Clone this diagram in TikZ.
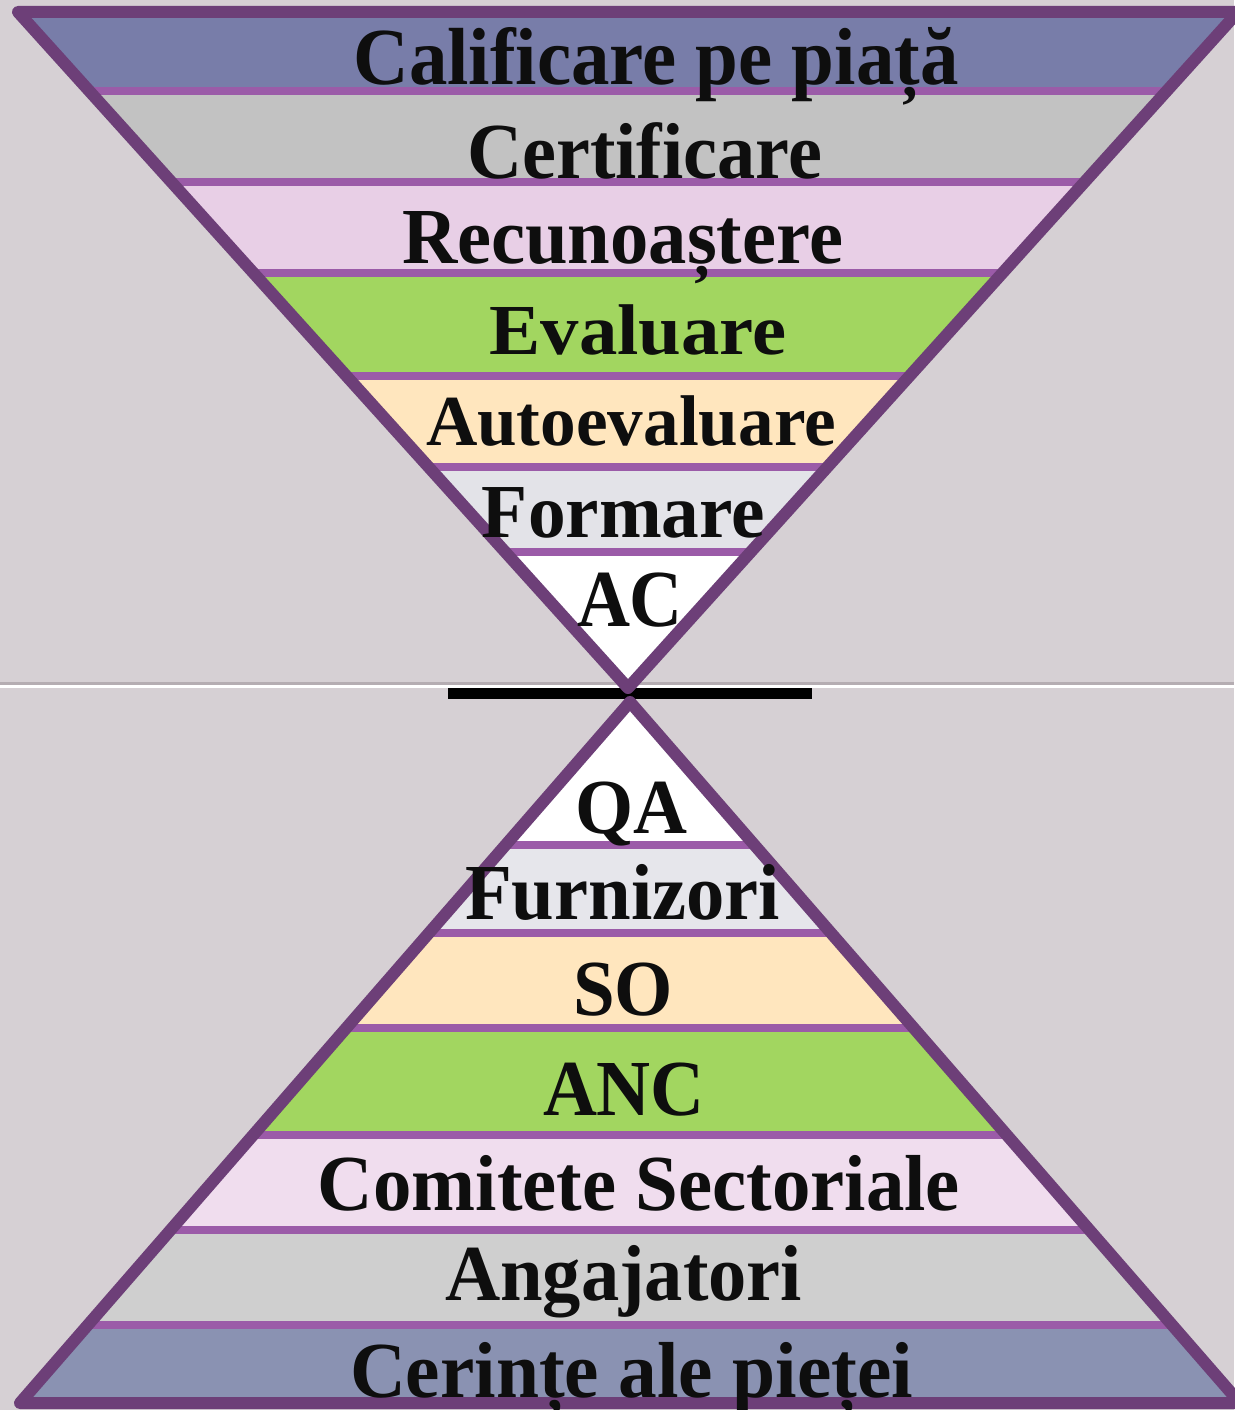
\documentclass[tikz,border=0pt]{standalone}
\usepackage{fontspec}
\setmainfont{Liberation Serif}
\usepackage{graphicx}
\definecolor{bgc}{HTML}{D6D0D4}
\definecolor{shadowc}{HTML}{B5ADB2}
\definecolor{outerc}{HTML}{6D3F78}
\definecolor{sepc}{HTML}{9B5BA8}
\definecolor{textc}{HTML}{0E0E0E}
\definecolor{cA}{HTML}{787DA9}
\definecolor{cB}{HTML}{C2C2C2}
\definecolor{cC}{HTML}{E8CFE6}
\definecolor{cD}{HTML}{A2D660}
\definecolor{cE}{HTML}{FFE6BE}
\definecolor{cF}{HTML}{E3E3E8}
\definecolor{cG}{HTML}{FFFFFF}
\definecolor{dB}{HTML}{E6E6EB}
\definecolor{dE}{HTML}{F0DDEE}
\definecolor{dF}{HTML}{CFCFCF}
\definecolor{dG}{HTML}{8A92B2}
\newcommand\fitlbl[3]{\resizebox{#1pt}{\height}{\fontsize{#2}{#2}\selectfont\bfseries #3}}
\begin{document}
\begin{tikzpicture}[x=1pt,y=-1pt,
  outer/.style={draw=outerc, line width=12pt, line join=round},
  sepline/.style={draw=sepc, line width=8pt},
  lab/.style={anchor=base, inner sep=0pt, text=textc}]
\useasboundingbox (0,0) rectangle (1234,1410);
\fill[bgc] (0,0) rectangle (1234,1410);
% divider line
\fill[shadowc] (0,682) rectangle (1234,685);
\fill[white] (0,685) rectangle (1234,688);
\fill[black] (448,688) rectangle (812,699);
% top triangle
\coordinate (TL) at (18,12);
\coordinate (TR) at (1238,12);
\coordinate (TA) at (628,688);
\begin{scope}
\clip (TL) -- (TR) -- (TA) -- cycle;
\fill[cA] (0,0) rectangle (1240,91);
\fill[cB] (0,91) rectangle (1240,182);
\fill[cC] (0,182) rectangle (1240,273);
\fill[cD] (0,273) rectangle (1240,376);
\fill[cE] (0,376) rectangle (1240,467);
\fill[cF] (0,467) rectangle (1240,552);
\fill[cG] (0,552) rectangle (1240,700);
\foreach \yy in {91,182,273,376,467,552}{\draw[sepline] (0,\yy) -- (1240,\yy);}
\end{scope}
\draw[outer] (TL) -- (TR) -- (TA) -- cycle;
% bottom triangle
\coordinate (BA) at (630,702);
\coordinate (BL) at (20,1403);
\coordinate (BR) at (1240,1403);
\begin{scope}
\clip (BA) -- (BR) -- (BL) -- cycle;
\fill[cG] (0,690) rectangle (1240,845);
\fill[dB] (0,845) rectangle (1240,933);
\fill[cE] (0,933) rectangle (1240,1028);
\fill[cD] (0,1028) rectangle (1240,1135);
\fill[dE] (0,1135) rectangle (1240,1230);
\fill[dF] (0,1230) rectangle (1240,1325);
\fill[dG] (0,1325) rectangle (1240,1410);
\foreach \yy in {845,933,1028,1135,1230,1325}{\draw[sepline] (0,\yy) -- (1240,\yy);}
\end{scope}
\draw[outer] (BA) -- (BR) -- (BL) -- cycle;
% labels top
\node[lab] (t1) at (656,85) {\fitlbl{605}{81}{Calificare pe piață}};
\node[lab] (t2) at (644.5,178) {\fitlbl{355}{79.4}{Certificare}};
\node[lab] (t3) at (622.5,263) {\fitlbl{441}{79.4}{Recunoaștere}};
\node[lab] (t4) at (638,354) {\fitlbl{297}{71.8}{Evaluare}};
\node[lab] (t5) at (631,445) {\fitlbl{410}{71.8}{Autoevaluare}};
\node[lab] (t6) at (623.5,537) {\fitlbl{283}{76.3}{Formare}};
\node[lab] (t7) at (630,626) {\fitlbl{106}{81}{AC}};
% labels bottom
\node[lab] (b1) at (631,833) {\fitlbl{112}{77.9}{QA}};
\node[lab] (b2) at (622.5,919) {\fitlbl{315}{79.4}{Furnizori}};
\node[lab] (b3) at (623,1015) {\fitlbl{100}{79.4}{SO}};
\node[lab] (b4) at (624,1115) {\fitlbl{162}{79.4}{ANC}};
\node[lab] (b5) at (639,1210) {\fitlbl{642}{79.4}{Comitete Sectoriale}};
\node[lab] (b6) at (623.5,1300) {\fitlbl{357}{79.4}{Angajatori}};
\node[lab] (b7) at (631.5,1397) {\fitlbl{563}{79.4}{Cerințe ale pieței}};
\end{tikzpicture}
\end{document}
